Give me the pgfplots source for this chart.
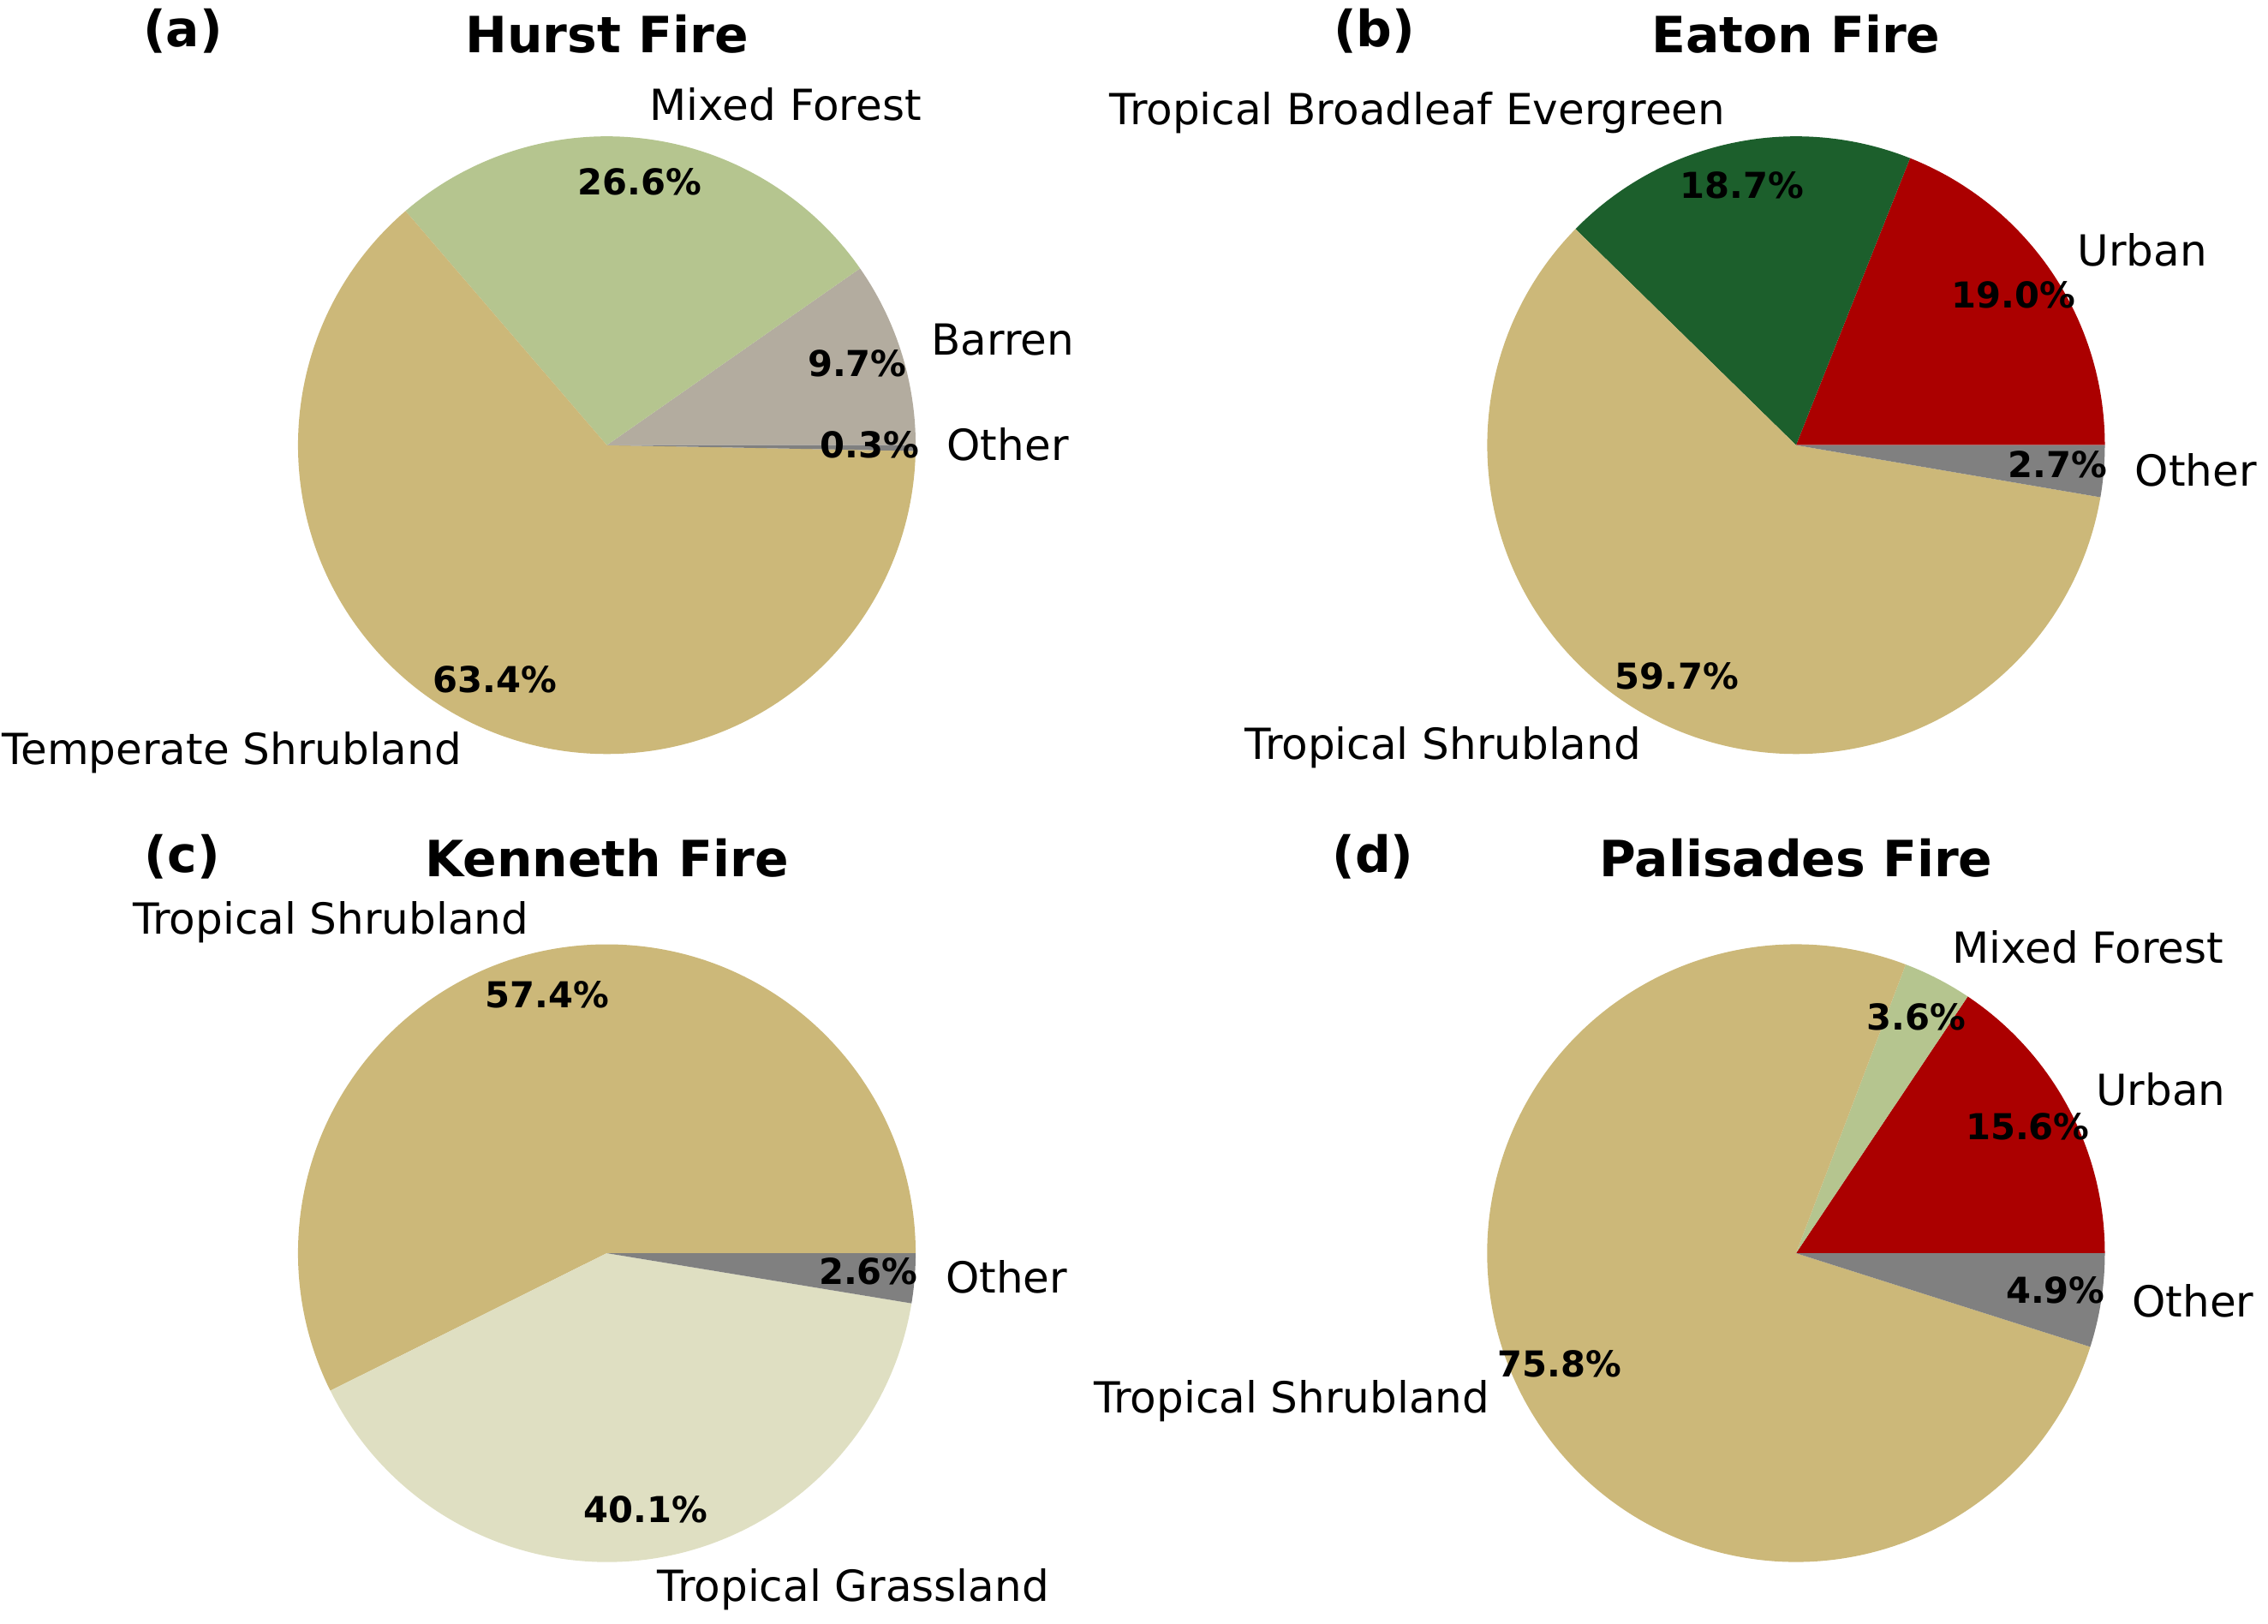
\documentclass[border=0pt]{standalone}
\usepackage{pgfplots}
\pgfplotsset{compat=1.18}
\usepackage{fontspec}
\setmainfont{DejaVu Sans}
\definecolor{shrub}{HTML}{CCB879}
\definecolor{mixed}{HTML}{B5C58F}
\definecolor{barren}{HTML}{B3AC9F}
\definecolor{urban}{HTML}{AB0000}
\definecolor{evergreen}{HTML}{1C5F2C}
\definecolor{grass}{HTML}{DFDFC2}
\definecolor{other}{HTML}{808080}

\newcommand\pieR{129.8pt}
\tikzset{
  lab/.style={inner sep=0pt, text height=13.68pt, text depth=3.744pt, font=\fontsize{18}{21.6}\selectfont},
  pct/.style={inner sep=0pt, text height=11.4pt, text depth=3.12pt, font=\fontsize{15}{18}\selectfont\bfseries},
  ttl/.style={inner sep=0pt, anchor=base, font=\fontsize{21}{25}\selectfont\bfseries},
}
% #1: list of value/colour/label, counter-clockwise from 0 degrees
\newcommand{\piechart}[1]{%
  \pgfplotsextra{%
    \gdef\pietotal{0}%
    \foreach \v/\c/\l in {#1}{\pgfmathparse{\pietotal+\v}\xdef\pietotal{\pgfmathresult}}%
    \pgfmathsetmacro\piefac{360/\pietotal}%
    \gdef\piestart{0}%
    \foreach \v/\c/\l in {#1}{%
      \pgfmathsetmacro\pa{\piestart}%
      \pgfmathsetmacro\pb{\piestart+\piefac*\v}%
      \fill[\c] (axis cs:0,0) -- (axis cs:{cos(\pa)},{sin(\pa)}) arc[start angle=\pa, end angle=\pb, radius=\pieR] -- cycle;
      \xdef\piestart{\pb}%
    }%
    \gdef\piestart{0}%
    \foreach \v/\c/\l in {#1}{%
      \pgfmathsetmacro\pa{\piestart}%
      \pgfmathsetmacro\pb{\piestart+\piefac*\v}%
      \pgfmathsetmacro\pmid{(\pa+\pb)/2}%
      \pgfmathsetmacro\cx{cos(\pmid)}%
      \ifdim\cx pt>0pt \def\anch{west}\else\def\anch{east}\fi
      \node[lab, anchor=\anch] at (axis cs:{1.1*cos(\pmid)},{1.1*sin(\pmid)}) {\l};
      \node[pct] at (axis cs:{0.85*cos(\pmid)},{0.85*sin(\pmid)}) {\v\%};
      \xdef\piestart{\pb}%
    }%
  }%
}
\pgfplotsset{
  pieaxis/.style={hide axis, scale only axis, width=324.5pt, height=324.5pt,
    xmin=-1.25, xmax=1.25, ymin=-1.25, ymax=1.25, clip=false, anchor=origin},
}

\begin{document}
\begin{tikzpicture}
% (a) Hurst
\begin{axis}[pieaxis, at={(255.06pt,-187.1pt)}]
\piechart{9.7/barren/Barren, 26.6/mixed/Mixed Forest, 63.4/shrub/Temperate Shrubland, 0.3/other/Other}
\end{axis}
% (b) Eaton
\begin{axis}[pieaxis, at={(754.9pt,-187.1pt)}]
\piechart{19.0/urban/Urban, 18.7/evergreen/Tropical Broadleaf Evergreen, 59.7/shrub/Tropical Shrubland, 2.7/other/Other}
\end{axis}
% (c) Kenneth
\begin{axis}[pieaxis, at={(255.06pt,-526.7pt)}]
\piechart{57.4/shrub/Tropical Shrubland, 40.1/grass/Tropical Grassland, 2.6/other/Other}
\end{axis}
% (d) Palisades
\begin{axis}[pieaxis, at={(754.9pt,-526.7pt)}]
\piechart{15.6/urban/Urban, 3.6/mixed/Mixed Forest, 75.8/shrub/Tropical Shrubland, 4.9/other/Other}
\end{axis}

\node[ttl] at (255.06pt,-22.2pt) {Hurst Fire};
\node[ttl] at (754.9pt,-22.2pt) {Eaton Fire};
\node[ttl] at (255.06pt,-368.6pt) {Kenneth Fire};
\node[ttl] at (754.9pt,-368.6pt) {Palisades Fire};
\node[ttl] at (76.9pt,-19.8pt) {(a)};
\node[ttl] at (577.7pt,-19.8pt) {(b)};
\node[ttl] at (76.6pt,-366.6pt) {(c)};
\node[ttl] at (577.1pt,-366.6pt) {(d)};

\pgfresetboundingbox
\useasboundingbox (0pt,0pt) rectangle (953.28pt,-682.56pt);
\end{tikzpicture}
\end{document}
